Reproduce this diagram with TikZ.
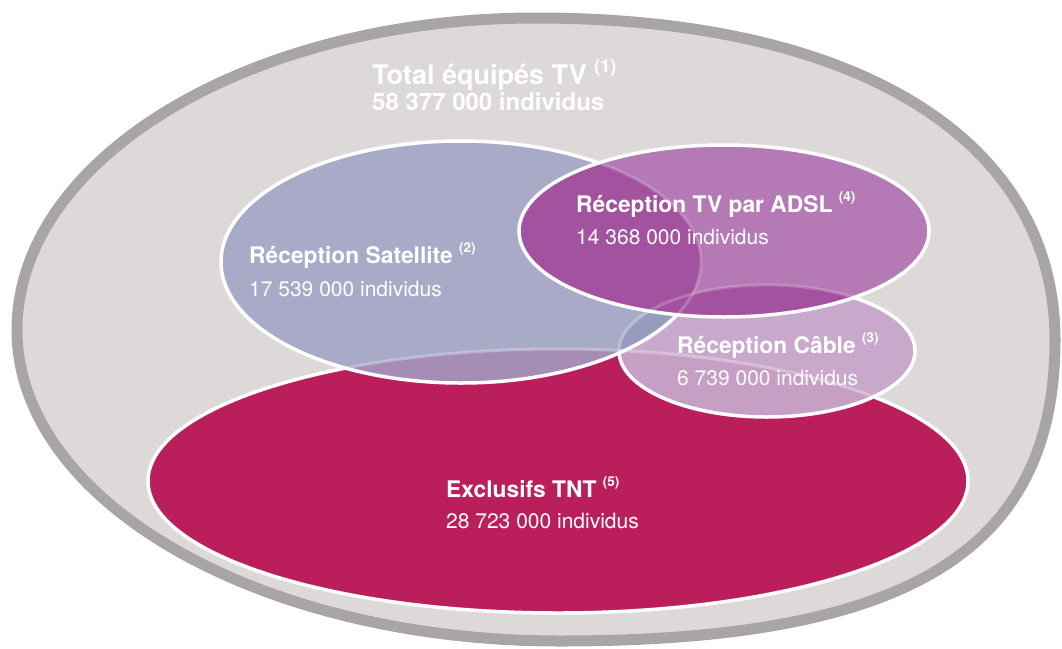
\documentclass[tikz,border=0pt]{standalone}
\usepackage{fontspec}
\setmainfont{TeX Gyre Heros}
\definecolor{outerfill}{HTML}{DCD9D8}
\definecolor{outerline}{HTML}{A8A5A4}
\definecolor{tntc}{HTML}{BB1F5B}
\definecolor{cablec}{HTML}{C9A9CB}
\definecolor{cabletnt}{HTML}{C6A0C4}
\definecolor{satc}{HTML}{A9AAC8}
\definecolor{sattnt}{HTML}{A58DB5}
\definecolor{satcable}{HTML}{979BBE}
\definecolor{adslc}{HTML}{B57AB5}
\definecolor{adslover}{HTML}{A3529F}
\def\tntpath{(558,481) ellipse [x radius=410pt, y radius=132pt]}
\def\cablepath{(767,351) ellipse [x radius=148pt, y radius=66pt]}
\def\satpath{(461,262) ellipse [x radius=240pt, y radius=121pt]}
\def\adslpath{(724,231) ellipse [x radius=205pt, y radius=86pt]}
\tikzset{
  rim/.style={draw=white, line width=3.5pt},
  ghost/.style={draw=white, line width=3pt, opacity=0.3},
  bigtxt/.style={text=white, inner sep=0pt, anchor=base west, font=\bfseries\fontsize{27}{30}\selectfont},
  bigsub/.style={text=white, inner sep=0pt, anchor=base west, font=\bfseries\fontsize{24}{28}\selectfont},
  headtxt/.style={text=white, inner sep=0pt, anchor=base west, font=\bfseries\fontsize{22.8}{26}\selectfont},
  counttxt/.style={text=white, inner sep=0pt, anchor=base west, font=\fontsize{21}{24}\selectfont},
}
\newcommand{\supnum}[2]{\raisebox{0.44em}{\fontsize{#1}{#1}\selectfont\bfseries #2}}
\begin{document}
\begin{tikzpicture}[x=1pt,y=-1pt]
\useasboundingbox (0,0) rectangle (1062,648);
\fill[white] (0,0) rectangle (1062,648);
% outer shape
\draw[outerline, line width=11pt, fill=outerfill]
  (536,18) .. controls (858,18) and (1055,140) .. (1055,340)
  .. controls (1055,550) and (910,641) .. (560,641)
  .. controls (260,641) and (17,502) .. (17,330)
  .. controls (17,158) and (250,18) .. (536,18) -- cycle;
% TNT
\fill[tntc] \tntpath;
\path[rim] \tntpath;
% Cable
\fill[cablec] \cablepath;
\begin{scope}\clip \cablepath; \fill[cabletnt] \tntpath; \path[ghost] \tntpath; \end{scope}
\path[rim] \cablepath;
% Satellite
\fill[satc] \satpath;
\begin{scope}\clip \satpath;
  \fill[sattnt] \tntpath;
  \fill[satcable] \cablepath;
  \path[ghost] \tntpath;
  \path[ghost] \cablepath;
\end{scope}
\path[rim] \satpath;
% ADSL
\fill[adslc] \adslpath;
\begin{scope}\clip \adslpath;
  \fill[adslover] \satpath;
  \fill[adslover] \cablepath;
  \path[ghost, opacity=0.2] \satpath;
  \path[ghost, opacity=0.2] \cablepath;
\end{scope}
\path[rim] \adslpath;
% texts
\node[bigtxt] (totT) at (372,84) {Total équipés TV \supnum{18}{(1)}};
\node[bigsub] (totN) at (372,110) {58 377 000 individus};
\node[headtxt] (satT) at (249,263) {Réception Satellite \supnum{13.5}{(2)}};
\node[counttxt] (satN) at (249,296) {17 539 000 individus};
\node[headtxt] (adslT) at (576,212) {Réception TV par ADSL \supnum{13.5}{(4)}};
\node[counttxt] (adslN) at (576,244) {14 368 000 individus};
\node[headtxt] (cabT) at (677,353) {Réception Câble \supnum{13.5}{(3)}};
\node[counttxt] (cabN) at (677,385) {6 739 000 individus};
\node[headtxt] (tntT) at (446,497) {Exclusifs TNT \supnum{13.5}{(5)}};
\node[counttxt] (tntN) at (446,528) {28 723 000 individus};
\end{tikzpicture}
\end{document}
